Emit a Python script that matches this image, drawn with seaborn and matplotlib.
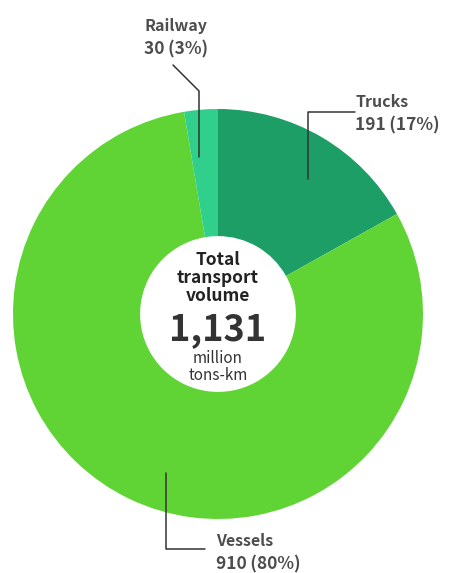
import matplotlib
matplotlib.use("Agg")
import matplotlib.pyplot as plt
import seaborn as sns

# values in million tons-km
modes = ["Trucks", "Vessels", "Railway"]
volumes = [191, 910, 30]
shares = ["17%", "80%", "3%"]
colors = ["#1c9e66", "#60d434", "#30d08c"]
total_label = "1,131"

sns.set_theme(style="white")
plt.rcParams["font.family"] = ["Noto Sans CJK JP", "DejaVu Sans"]

W, H = 451, 573
fig = plt.figure(figsize=(W / 100, H / 100), dpi=100)
ax = fig.add_axes([0, 0, 1, 1])

cx, cy, r = 218, H - 314, 205
ax.pie(volumes, colors=colors, startangle=90, counterclock=False,
       center=(cx, cy), radius=r, frame=True,
       wedgeprops=dict(width=r * 0.62, linewidth=0))
ax.set_xlim(0, W)
ax.set_ylim(0, H)
ax.set_aspect("equal")
ax.axis("off")

def Y(y):
    return H - y

lc = "#333333"
lw = 1.1
txt = "#4d4d4d"

# leader lines
ax.plot([173, 199, 199], [Y(65), Y(91), Y(157)], color=lc, lw=lw)
ax.plot([355, 308, 308], [Y(112), Y(112), Y(179)], color=lc, lw=lw)
ax.plot([166, 166, 205], [Y(473), Y(549), Y(549)], color=lc, lw=lw)

# outer labels
label_pos = {"Railway": (144, 31), "Trucks": (355, 107), "Vessels": (216, 546)}
for m, v, s in zip(modes, volumes, shares):
    x, y = label_pos[m]
    ax.text(x, Y(y), m, fontsize=11.5, color=txt, fontweight="bold",
            ha="left", va="baseline")
    ax.text(x, Y(y + 23), f"{v}\u2009({s})", fontsize=12.5, color=txt,
            fontweight="bold", ha="left", va="baseline")

# centre text
for line, yy in zip(["Total", "transport", "volume"], [265, 283, 301]):
    ax.text(cx, Y(yy), line, fontsize=12.5, fontweight="bold", color="#222222",
            ha="center", va="baseline")
ax.text(cx, Y(340), total_label, fontsize=26, fontweight="bold", color="#333333",
        ha="center", va="baseline")
ax.text(cx, Y(363), "million", fontsize=11, color="#333333",
        ha="center", va="baseline")
ax.text(cx, Y(380), "tons-km", fontsize=11, color="#333333",
        ha="center", va="baseline")

fig.savefig("out.png", dpi=100)
